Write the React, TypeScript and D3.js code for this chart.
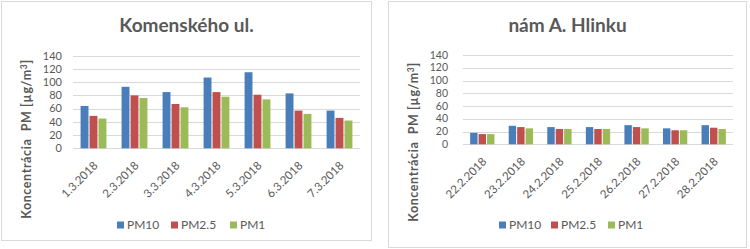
import React from "react";
import * as d3 from "d3";

const seriesNames = ["PM10", "PM2.5", "PM1"];
const seriesColors = ["#4a7ebb", "#c0504d", "#9bbb59"];
const yTicks = [0, 20, 40, 60, 80, 100, 120, 140];

const titleA = "Komenského ul.";
const categoriesA = ["1.3.2018", "2.3.2018", "3.3.2018", "4.3.2018", "5.3.2018", "6.3.2018", "7.3.2018"];
const pm10A = [64, 93, 85, 107, 115, 83, 57];
const pm25A = [49, 80, 67, 85, 81, 57, 46];
const pm1A = [45, 76, 62, 78, 74, 52, 42];

const titleB = "nám A. Hlinku";
const categoriesB = ["22.2.2018", "23.2.2018", "24.2.2018", "25.2.2018", "26.2.2018", "27.2.2018", "28.2.2018"];
const pm10B = [18, 29, 27, 27, 30, 25, 30];
const pm25B = [16, 27, 24, 24, 27, 22, 26];
const pm1B = [16, 25, 24, 24, 25, 22, 24];

const FONT = "Lato, 'Open Sans', sans-serif";
const TXT = "#595959";

type Layout = {
  box: [number, number, number, number];
  px0: number; px1: number; pyTop: number; pyBot: number;
  tickGap: number; tickSize: number; yTitleX: number; yTitleY: number; legendX: number; legendY: number;
  legendOffsets: number[];
};

function Panel({ title, categories, series, L }: { title: string; categories: string[]; series: number[][]; L: Layout }) {
  const [bx, by, bw, bh] = L.box;
  const x = d3.scaleBand<string>().domain(categories).range([L.px0, L.px1]).paddingInner(0.37).paddingOuter(0.185);
  const xs = d3.scaleBand<number>().domain(series.map((_, i) => i)).range([0, x.bandwidth()]).paddingInner(0.12);
  const y = d3.scaleLinear().domain([0, 140]).range([L.pyBot, L.pyTop]);
  const cx = (bx + bx + bw) / 2;
  return (
    <g>
      <rect x={bx} y={by} width={bw} height={bh} fill="#fff" stroke="#d9d9d9" strokeWidth={1} />
      <text x={cx} y={by + 30} textAnchor="middle" fontFamily={FONT} fontWeight="bold" fontSize={19} fill={TXT}>{title}</text>
      {yTicks.map((t) => (
        <g key={t}>
          <line x1={L.px0} x2={L.px1} y1={Math.round(y(t)) + 0.5} y2={Math.round(y(t)) + 0.5} stroke="#d9d9d9" strokeWidth={1} />
          <text x={L.px0 - L.tickGap} y={y(t)} dy="0.35em" textAnchor="end" fontFamily={FONT} fontSize={L.tickSize} fill={TXT}>{t}</text>
        </g>
      ))}
      {categories.map((c, ci) => (
        <g key={c}>
          {series.map((s, si) => (
            <rect key={si} x={(x(c) as number) + (xs(si) as number)} y={y(s[ci])} width={xs.bandwidth()} height={y(0) - y(s[ci])} fill={seriesColors[si]} />
          ))}
          <text transform={`translate(${(x(c) as number) + x.bandwidth() / 2 + 5},${L.pyBot + 18}) rotate(-45)`} textAnchor="end" fontFamily={FONT} fontSize={11.5} fill={TXT}>{c}</text>
        </g>
      ))}
      <text transform={`translate(${L.yTitleX},${L.yTitleY}) rotate(-90)`} textAnchor="middle" fontFamily={FONT} fontWeight="bold" fontSize={12.5} letterSpacing={0.6} fill={TXT} style={{ whiteSpace: "pre" }}>
        {"Koncentrácia  PM [µg/m"}<tspan dy={-4} fontSize={8.5}>3</tspan><tspan dy={4}>]</tspan>
      </text>
      {seriesNames.map((n, i) => (
        <g key={n} transform={`translate(${L.legendX + L.legendOffsets[i]},${L.legendY})`}>
          <rect x={0} y={-3.5} width={7} height={7} fill={seriesColors[i]} />
          <text x={10} y={0} dy="0.35em" fontFamily={FONT} fontSize={12} fill={TXT}>{n}</text>
        </g>
      ))}
    </g>
  );
}

export default function App() {
  const LA: Layout = {
    box: [1.5, 1.5, 370, 239], px0: 73, px1: 360, pyTop: 55.7, pyBot: 148.3,
    tickGap: 11, tickSize: 11, yTitleX: 31, yTitleY: 139, legendX: 117, legendY: 225, legendOffsets: [0, 54, 113],
  };
  const LB: Layout = {
    box: [388.5, 1.5, 358, 246], px0: 463, px1: 733, pyTop: 55, pyBot: 144.3,
    tickGap: 15, tickSize: 10.5, yTitleX: 418, yTitleY: 142, legendX: 499, legendY: 225, legendOffsets: [0, 52, 109],
  };
  return (
    <svg width={750} height={249} style={{ position: "absolute", left: 0, top: 0 }}>
      <rect width={750} height={249} fill="#fff" />
      <Panel title={titleA} categories={categoriesA} series={[pm10A, pm25A, pm1A]} L={LA} />
      <Panel title={titleB} categories={categoriesB} series={[pm10B, pm25B, pm1B]} L={LB} />
    </svg>
  );
}
